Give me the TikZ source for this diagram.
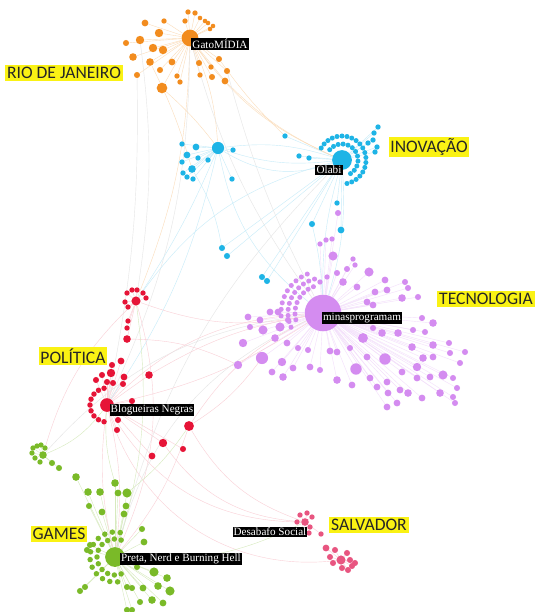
\documentclass[tikz,border=0pt]{standalone}
\usepackage{fontspec}
\newfontfamily\tagfont{Liberation Serif}
\newfontfamily\areafont{Carlito}
\definecolor{gatoorange}{RGB}{242,140,30}
\definecolor{olabiblue}{RGB}{30,180,230}
\definecolor{minaspurple}{RGB}{212,140,240}
\definecolor{blogred}{RGB}{230,20,55}
\definecolor{pretagreen}{RGB}{122,186,40}
\definecolor{salpink}{RGB}{232,85,128}
\definecolor{hilite}{RGB}{250,242,20}
\pgfdeclarelayer{paper}
\pgfdeclarelayer{edges}
\pgfsetlayers{paper,edges,main}
\tikzset{
	vtx/.style={circle,inner sep=0pt,minimum size={1.3pt*(#1)}},
	area/.style={fill=hilite,text=black!85,inner sep=1.5pt,font=\areafont\fontsize{15}{15}\selectfont},
	tag/.style={fill=black,text=white,inner sep=1pt,font=\tagfont\fontsize{9.5}{10}\selectfont},
	oedge/.style={gatoorange!30,line width=0.35pt},
	bedge/.style={olabiblue!25,line width=0.35pt},
	pedge/.style={minaspurple!28,line width=0.35pt},
	redge/.style={blogred!20,line width=0.35pt},
	gedge/.style={pretagreen!30,line width=0.35pt},
	sedge/.style={salpink!30,line width=0.35pt},
	xedge/.style={black!10,line width=0.35pt}
}
\begin{document}
\begin{tikzpicture}[x=0.03cm,y=-0.03cm]
	\begin{pgfonlayer}{paper}
		\fill[white] (0,0) rectangle (537,612);
	\end{pgfonlayer}
	\useasboundingbox (0,0) rectangle (537,612);
	% hubs
	\node[vtx=11,fill=gatoorange] (gato) at (190,38) {};
	\node[vtx=13,fill=olabiblue] (olabi) at (342,160) {};
	\node[vtx=8,fill=olabiblue] (bhub) at (218,148) {};
	\node[vtx=24,fill=minaspurple] (minas) at (323,313) {};
	\node[vtx=6,fill=blogred] (rtop) at (136,301) {};
	\node[vtx=9,fill=blogred] (blog) at (107,405) {};
	\node[vtx=6.5,fill=blogred] (rmid) at (189,426) {};
	\node[vtx=13,fill=pretagreen] (preta) at (115,557) {};
	\node[vtx=5,fill=pretagreen] (gtl) at (43,455) {};
	\node[vtx=5,fill=salpink] (sal) at (305,522) {};
	\node[vtx=6,fill=salpink] (sal2) at (341,560) {};
	% rio de janeiro
	\foreach \x/\y/\s [count=\i] in {188/12/3.5,195/13/3.5,145/23/4.5,164/21/3.5,185/21/3.5,200/18/3,205/21/3,208/23/3,213/26/3,210/29/3,159/33/5.5,140/40/5.5,126/43/4,153/48/5.5,163/50/5.5,133/57/5,150/62/5,172/62/4.5,199/63/4,219/59/4,211/67/3.5,160/70/4,137/75/4,177/76/3.5,180/82/3.5,200/75/3.5,212/77/4,227/71/4,225/81/4.5,162/88/7}{
		\node[vtx=\s,fill=gatoorange] (o\i) at (\x,\y) {};
		\begin{pgfonlayer}{edges}\draw[oedge] (gato) -- (o\i);\end{pgfonlayer}
	}
	% inovacao
	\foreach \x/\y/\s [count=\i] in {182/144/3.5,196/147/4.5,233/150/3.5,187/155/4.5,198/158/3.5,208/160/3.5,182/162/3.5,192/169/5,183/173/3.5,187/177/3.5,193/179/3.5,232/179/3.5}{
		\node[vtx=\s,fill=olabiblue] (bl\i) at (\x,\y) {};
		\begin{pgfonlayer}{edges}\draw[bedge] (bhub) -- (bl\i);\end{pgfonlayer}
	}
	\foreach \x/\y/\s [count=\i] in {285/136/3.5,299/156/3.5,309/158/3.5,378/127/3.5,374/133/3.5,373/140/3.5,377/147/3.5,375/152/3.5,368/143/3.5,337/203/3.5,341/230/4.5,312/224/4,222/248/4,227/256/4,262/277/4,267/281/4}{
		\node[vtx=\s,fill=olabiblue] (br\i) at (\x,\y) {};
		\begin{pgfonlayer}{edges}\draw[bedge] (olabi) -- (br\i);\end{pgfonlayer}
	}
	\foreach \a [count=\i] in {150,138,...,-78}{
		\node[vtx=3.3,fill=olabiblue] (bo\i) at ({342+24*cos(\a)},{160-24*sin(\a)}) {};
	}
	\foreach \a [count=\i] in {140,122,...,-58}{
		\node[vtx=3.3,fill=olabiblue] (bi\i) at ({342+16*cos(\a)},{160-16*sin(\a)}) {};
	}
	% tecnologia
	\foreach \x/\y/\s [count=\i] in {320/244/3.5,326/240/3.5,332/239/3.5,333/256/6,353/259/3.5,355/265/3.5,347/269/4,337/273/4,327/277/3.5,320/282/3.5,369/272/6,343/282/5,357/287/4.5,385/280/4.5,387/290/4.5,405/282/4,408/288/4,402/298/5,418/297/4,367/302/4.5,375/292/4.5,373/305/4.5,270/312/4.5,278/312/4.5,248/317/4.5,260/320/4.5,250/327/4,263/330/6,280/327/6,288/320/4,275/338/5,287/343/4.5,243/343/5.5,298/348/4,308/350/4,262/358/8,282/362/5.5,238/365/5.5,272/372/4.5,283/377/5,293/368/4.5,310/367/4.5,320/370/4,330/351/4.5,337/352/4.5,350/348/4,363/338/6.5,356/369/7.5,337/380/5,352/385/4.5,367/357/4.5,385/359/7.5,370/378/4.5,377/387/4.5,387/382/4.5,388/393/4.5,400/390/4.5,387/407/4.5,397/403/4.5,382/333/5,398/333/5,412/347/5,423/358/5,433/357/4.5,413/330/4,425/332/4,422/318/4,433/323/5,433/345/5,417/367/5.5,430/377/4.5,402/372/4.5,417/378/4.5,408/393/5,422/398/4.5,440/393/5,443/375/6,453/378/4,457/388/4,453/397/4,455/403/4,450/353/4,460/363/4,465/352/4,449/343/4,373/328/4,338/213/4}{
		\node[vtx=\s,fill=minaspurple] (p\i) at (\x,\y) {};
		\begin{pgfonlayer}{edges}\draw[pedge] (minas) -- (p\i);\end{pgfonlayer}
	}
	\foreach \r/\aa/\ab/\ae in {28/110/122/194,35/104/114/204,42/112/121/184}{
		\foreach \a in {\aa,\ab,...,\ae}{
			\node[vtx=3.3,fill=minaspurple] at ({323+\r*cos(\a)},{313-\r*sin(\a)}) {};
		}
	}
	% politica
	\foreach \x/\y/\s [count=\i] in {127/293/3.5,132/290/3.5,137/290/3.5,143/293/3.5,146/298/3.5,125/302/3.5,128/307/3.5,128/321/3.5,127/328/3.5,127/339/5}{
		\node[vtx=\s,fill=blogred] (rt\i) at (\x,\y) {};
		\begin{pgfonlayer}{edges}\draw[redge] (rtop) -- (rt\i);\end{pgfonlayer}
	}
	\foreach \x/\y/\s [count=\i] in {112/365/4,121/361/4.5,102/375/4,111/373/5.5,96/380/4,107/382/4,113/383/4,124/377/4.5,123/384/4,149/375/5,118/420/4,117/430/4,132/401/4,163/443/5.5,152/456/4.5,183/449/4}{
		\node[vtx=\s,fill=blogred] (rb\i) at (\x,\y) {};
		\begin{pgfonlayer}{edges}\draw[redge] (blog) -- (rb\i);\end{pgfonlayer}
	}
	\foreach \a [count=\i] in {100,120,...,260}{
		\node[vtx=3.6,fill=blogred] (rr\i) at ({107+17*cos(\a)},{405-17*sin(\a)}) {};
	}
	% games
	\foreach \x/\y/\s [count=\i] in {33/448/3.5,37/446/3.5,41/445/3.5,45/448/3.5,32/453/3.5,35/458/3.5,40/462/3.5,52/463/4,59/468/4}{
		\node[vtx=\s,fill=pretagreen] (gt\i) at (\x,\y) {};
		\begin{pgfonlayer}{edges}\draw[gedge] (gtl) -- (gt\i);\end{pgfonlayer}
	}
	\foreach \x/\y/\s [count=\i] in {76/477/5,115/483/5,88/492/5,100/492/5,118/493/4.5,127/493/6,89/506/4,102/512/4.5,126/506/4.5,124/514/4.5,142/529/4,144/542/4.5,90/545/4,87/550/4,137/567/4,154/572/6,167/578/5,158/586/5,170/591/6,143/588/4.5,127/587/4,132/588/4,152/600/5,163/603/4.5,140/602/4,80/591/4,85/587/4,127/610/4,132/610/4}{
		\node[vtx=\s,fill=pretagreen] (g\i) at (\x,\y) {};
		\begin{pgfonlayer}{edges}\draw[gedge] (preta) -- (g\i);\end{pgfonlayer}
	}
	\foreach \r/\aa/\ab/\ae in {18/70/92/290,25/78/96/282}{
		\foreach \a in {\aa,\ab,...,\ae}{
			\node[vtx=3.6,fill=pretagreen] at ({115+\r*cos(\a)},{557-\r*sin(\a)}) {};
		}
	}
	% salvador
	\foreach \x/\y/\s [count=\i] in {300/515/3.5,307/513/3.5,312/517/3.5,297/522/3.5,310/527/3.5,300/530/3.5,309/533/3.5,321/534/3.5}{
		\node[vtx=\s,fill=salpink] (s\i) at (\x,\y) {};
		\begin{pgfonlayer}{edges}\draw[sedge] (sal) -- (s\i);\end{pgfonlayer}
	}
	\foreach \x/\y/\s [count=\i] in {326/548/4.5,335/550/4,347/553/4,330/557/4,333/563/4,350/560/4,355/563/4,342/568/4,348/570/4,352/566/4}{
		\node[vtx=\s,fill=salpink] (ss\i) at (\x,\y) {};
		\begin{pgfonlayer}{edges}\draw[sedge] (sal2) -- (ss\i);\end{pgfonlayer}
	}
	% links between the groups
	\begin{pgfonlayer}{edges}
		\foreach \a/\b/\c/\st in {gato/olabi/-15/oedge,gato/bhub/10/oedge,gato/minas/-10/xedge,gato/rtop/10/oedge,gato/blog/12/xedge,o30/bhub/5/oedge,o29/olabi/-10/oedge,o20/br1/-5/oedge,o12/rtop/8/xedge,o17/bl8/5/oedge,o23/blog/6/xedge,o28/minas/-6/xedge,
			olabi/bhub/12/bedge,olabi/bhub/-12/bedge,olabi/bhub/25/bedge,olabi/minas/10/bedge,olabi/minas/-8/bedge,bhub/minas/-20/bedge,bhub/blog/10/bedge,olabi/rtop/-20/bedge,bhub/rtop/5/bedge,bl8/br13/10/bedge,br12/minas/5/bedge,olabi/preta/-15/xedge,
			blog/minas/20/redge,blog/minas/-10/redge,rtop/minas/-15/redge,blog/preta/-10/redge,blog/preta/10/redge,blog/sal/-30/redge,rmid/sal/-20/redge,rmid/minas/15/redge,blog/sal2/-40/redge,rtop/preta/20/redge,rtop/gtl/-15/redge,rmid/preta/10/redge,rb14/sal/-25/redge,rb10/minas/10/redge,rmid/p36/-10/redge,rt10/p38/12/redge,
			gtl/blog/-15/gedge,gtl/minas/20/xedge,preta/minas/25/xedge,preta/sal/-15/gedge,g2/blog/10/gedge,g6/rmid/-8/gedge,preta/rtop/-12/gedge}{
			\draw[\st] (\a) to[bend left=\c] (\b);
		}
	\end{pgfonlayer}
	% names
	\node[tag] (gatotag) at (220,44) {GatoMÍDIA};
	\node[tag] (olabitag) at (329,170) {Olabi};
	\node[tag] (minastag) at (362,318) {minasprogramam};
	\node[tag] (blogtag) at (152,410) {Blogueiras Negras};
	\node[tag] (pretatag) at (181,559) {Preta, Nerd e Burning Hell};
	\node[tag] (saltag) at (270,532) {Desabafo Social};
	% areas
	\node[area] (rio) at (64,73) {RIO DE JANEIRO};
	\node[area] (inov) at (429,147) {INOVAÇÃO};
	\node[area] (tec) at (486,299) {TECNOLOGIA};
	\node[area] (pol) at (73,356) {POLÍTICA};
	\node[area] (games) at (59,534) {GAMES};
	\node[area] (salv) at (369,525) {SALVADOR};
\end{tikzpicture}
\end{document}
